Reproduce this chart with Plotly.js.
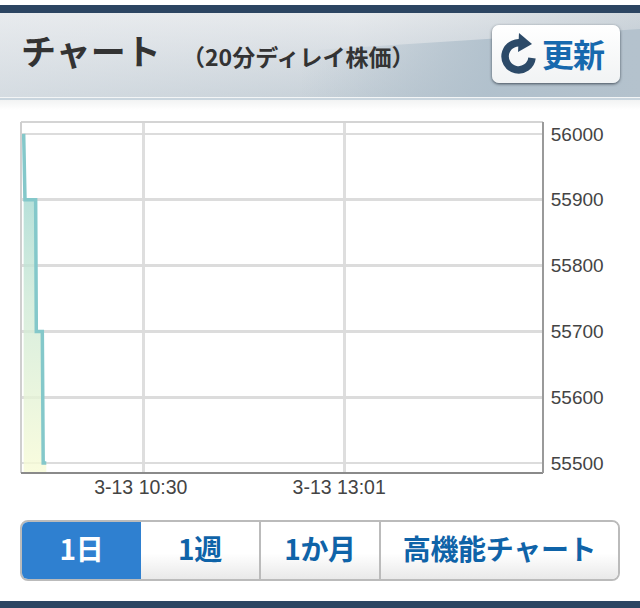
<!DOCTYPE html>
<html><head><meta charset="utf-8">
<script src="https://cdn.plot.ly/plotly-3.0.1.min.js"></script>
<style>
html,body{margin:0;padding:0;background:#fff;width:640px;height:608px;overflow:hidden;font-family:"Liberation Sans","Noto Sans CJK JP",sans-serif}
#top{position:absolute;left:0;top:5px;width:640px;height:8px;background:#2c4562}
#head{position:absolute;left:0;top:13px;width:640px;height:84px;background:
 linear-gradient(90deg,rgba(233,236,239,.55) 0%,rgba(233,236,239,.25) 55%,rgba(140,160,175,.25) 100%),
 linear-gradient(180deg,#e6e9ec 0%,#d3dae0 45%,#bcc8d1 100%)}
#wedgeD{position:absolute;left:300px;top:13px;width:340px;height:84px;
 background:linear-gradient(90deg,rgba(176,192,204,0) 0%,rgba(176,192,204,.9) 55%,#b4c2cd 100%);
 clip-path:polygon(0 38px,340px 16px,340px 84px,0 84px)}
#head2{position:absolute;left:0;top:97px;width:640px;height:3px;background:#c9d5de;border-top:1px solid #f3f5f6;box-sizing:border-box}
#shade{position:absolute;left:0;top:100px;width:640px;height:10px;background:linear-gradient(#f2f3f3,#fff)}
#refresh{position:absolute;left:492px;top:25px;width:128px;height:58px;background:linear-gradient(#fff,#f1f3f4);border-radius:7px;box-shadow:0 1px 3px rgba(40,50,60,.8);box-sizing:border-box;color:#1769ae;font-weight:bold;font-size:32px;line-height:56px;padding-left:50px;font-family:"Noto Sans CJK JP",sans-serif;letter-spacing:-1px}
#ric{position:absolute;left:500px;top:33px}
#tabs{position:absolute;left:20px;top:520px;width:600px;height:61px;border:2px solid #bbb;border-radius:8px;box-sizing:border-box;display:flex;overflow:hidden;background:#fff}
#tabs div{box-sizing:border-box;height:100%;background:linear-gradient(#fff 55%,#e9e9e9);border-right:2px solid #bbb;color:#0f63a8;font-weight:bold;font-size:28px;line-height:53px;text-align:center;font-family:"Noto Sans CJK JP",sans-serif;letter-spacing:-.3px}
#tabs div.on{background:#2f80d0;color:#fff;border-right:none}
#tabs div:last-child{border-right:none}
#bottom{position:absolute;left:0;top:601px;width:640px;height:7px;background:#2c4562}
#chart{position:absolute;left:0;top:0;width:640px;height:608px}
</style></head>
<body>
<div id="top"></div><div id="head"></div><div id="wedgeD"></div><div id="head2"></div><div id="shade"></div>
<div id="chart"></div>
<div id="refresh">更新</div>
<svg id="ric" width="38" height="42" viewBox="0 0 38 42"><path d="M24 11 A13.5 13.5 0 1 0 32 25" fill="none" stroke="#2c4a68" stroke-width="7.5"/><path d="M19 0 L32 11 L18 19 Z" fill="#2c4a68"/></svg>
<div id="tabs"><div class="on" style="width:119px">1日</div><div style="width:120px">1週</div><div style="width:120px">1か月</div><div style="flex:1">高機能チャート</div></div>
<div id="bottom"></div>
<script>
const times = ["2014-03-13 09:00","2014-03-13 09:01","2014-03-13 09:09","2014-03-13 09:09:30","2014-03-13 09:14","2014-03-13 09:14:40","2014-03-13 09:17"];
const prices = [56000,55900,55900,55700,55700,55500,55500];
const tickTimes = ["2014-03-13 10:30","2014-03-13 13:01"];
const tickLabels = ["3-13 10:30\u00a0","3-13 13:01\u00a0\u00a0"];
const priceTicks = [55500,55600,55700,55800,55900,56000];
const xRange = ["2014-03-13 08:58","2014-03-13 15:30"];
const yRange = [55485,56018];
const titleText = 'チャート';
const subtitleText = '（20分ディレイ株価）';
Plotly.newPlot('chart',[{
  x:times,y:prices,type:'scatter',mode:'lines',
  line:{color:'#84c8ca',width:3.5},
  fill:'tozeroy',
  fillgradient:{type:'vertical',start:55485,stop:56018,colorscale:[[0,'rgba(248,251,214,.8)'],[0.5,'rgba(205,233,214,.8)'],[1,'rgba(140,207,207,.85)']]},
  hoverinfo:'skip'
}],{
  width:640,height:608,
  margin:{l:21,r:97,t:122,b:135,pad:0},
  paper_bgcolor:'rgba(0,0,0,0)',plot_bgcolor:'#fff',
  showlegend:false,
  title:{text:'<b>'+titleText+'</b>',x:0,xref:'paper',xanchor:'left',y:0.914,yref:'container',yanchor:'middle',font:{family:'"Noto Sans CJK JP",sans-serif',size:35,color:'#333'}},
  annotations:[{text:'<b>'+subtitleText+'</b>',xref:'paper',yref:'paper',x:0,y:1,xanchor:'left',yanchor:'middle',xshift:159,yshift:66,showarrow:false,
    font:{family:'"Noto Sans CJK JP",sans-serif',size:23,color:'#333'}}],
  xaxis:{type:'date',range:xRange,tickmode:'array',tickvals:tickTimes,ticktext:tickLabels,
    showgrid:true,gridcolor:'#dedede',gridwidth:3,zeroline:false,
    ticks:'',showline:false,tickfont:{family:'"Liberation Sans",sans-serif',size:19.5,color:'#444'}},
  yaxis:{side:'right',range:yRange,tickmode:'array',tickvals:priceTicks,ticktext:priceTicks.map(String),
    showgrid:true,gridcolor:'#dcdcdc',gridwidth:2.5,zeroline:false,ticks:'outside',ticklen:3,tickcolor:'rgba(0,0,0,0)',
    showline:false,tickfont:{family:'"Liberation Sans",sans-serif',size:19,color:'#444'}},
  shapes:[
   {type:'line',xref:'paper',yref:'paper',x0:0,x1:1,y0:1,y1:1,line:{color:'#d4d4d4',width:2}},
   {type:'line',xref:'paper',yref:'paper',x0:0,x1:0,y0:0,y1:1,line:{color:'#cfcfcf',width:2}},
   {type:'line',xref:'paper',yref:'paper',x0:0,x1:1,y0:0,y1:0,line:{color:'#8a8a8a',width:2}},
   {type:'line',xref:'paper',yref:'paper',x0:1,x1:1,y0:0,y1:1,line:{color:'#9a9a9a',width:2}}
  ]
},{displayModeBar:false,staticPlot:true});
</script>
</body></html>
